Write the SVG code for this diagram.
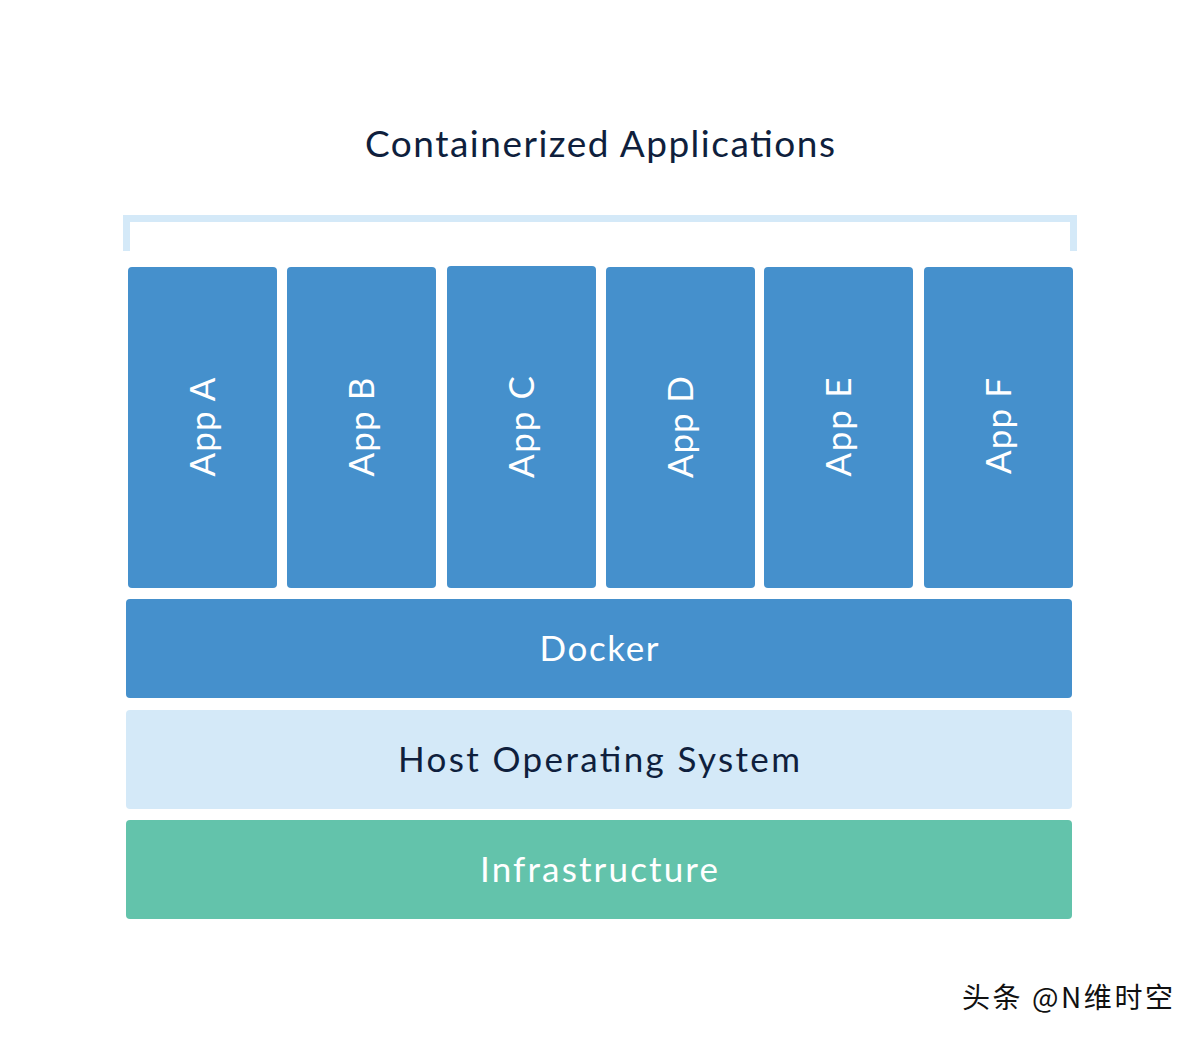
<svg xmlns="http://www.w3.org/2000/svg" width="1200" height="1039" viewBox="0 0 1200 1039">
<style>
.app{fill:#4590CC}
.lbl{font-family:Lato,"Noto Sans",sans-serif;font-size:35px;text-anchor:middle}
.w{fill:#FFFFFF}
.d{fill:#0F1F3D}
</style>
<rect width="1200" height="1039" fill="#FFFFFF"/>
<text x="600" y="157" class="lbl d" style="font-size:37px" textLength="470" lengthAdjust="spacing">Containerized Applications</text>
<g id="bracket"><path d="M126.5 251 V218.5 H1073.5 V251" fill="none" stroke="#D4E9F8" stroke-width="7"/></g>
<g id="appA"><rect class="app" x="128" y="267" width="149" height="321" rx="4"/><text class="lbl w" transform="translate(215 427) rotate(-90)" textLength="99" lengthAdjust="spacing">App A</text></g>
<g id="appB"><rect class="app" x="287" y="267" width="149" height="321" rx="4"/><text class="lbl w" transform="translate(374 427) rotate(-90)" textLength="99" lengthAdjust="spacing">App B</text></g>
<g id="appC"><rect class="app" x="447" y="266" width="149" height="322" rx="4"/><text class="lbl w" transform="translate(534 427) rotate(-90)" textLength="102" lengthAdjust="spacing">App C</text></g>
<g id="appD"><rect class="app" x="606" y="267" width="149" height="321" rx="4"/><text class="lbl w" transform="translate(693 427) rotate(-90)" textLength="102" lengthAdjust="spacing">App D</text></g>
<g id="appE"><rect class="app" x="764" y="267" width="149" height="321" rx="4"/><text class="lbl w" transform="translate(851 427) rotate(-90)" textLength="99" lengthAdjust="spacing">App E</text></g>
<g id="appF"><rect class="app" x="924" y="267" width="149" height="321" rx="4"/><text class="lbl w" transform="translate(1011 426) rotate(-90)" textLength="96" lengthAdjust="spacing">App F</text></g>
<g id="docker"><rect class="app" x="126" y="599" width="946" height="99" rx="4"/><text class="lbl w" x="599" y="661" textLength="119" lengthAdjust="spacing">Docker</text></g>
<g id="host"><rect fill="#D4E9F8" x="126" y="710" width="946" height="99" rx="4"/><text class="lbl d" x="599" y="772" textLength="402" lengthAdjust="spacing">Host Operating System</text></g>
<g id="infra"><rect fill="#63C3AB" x="126" y="820" width="946" height="99" rx="4"/><text class="lbl w" x="599" y="882" textLength="238" lengthAdjust="spacing">Infrastructure</text></g>
<g id="connectors"></g>
<text x="962" y="1008" style="font-family:'Noto Sans CJK SC',sans-serif;font-size:28px" fill="#111111" textLength="211" lengthAdjust="spacing">头条 @N维时空</text>
</svg>
